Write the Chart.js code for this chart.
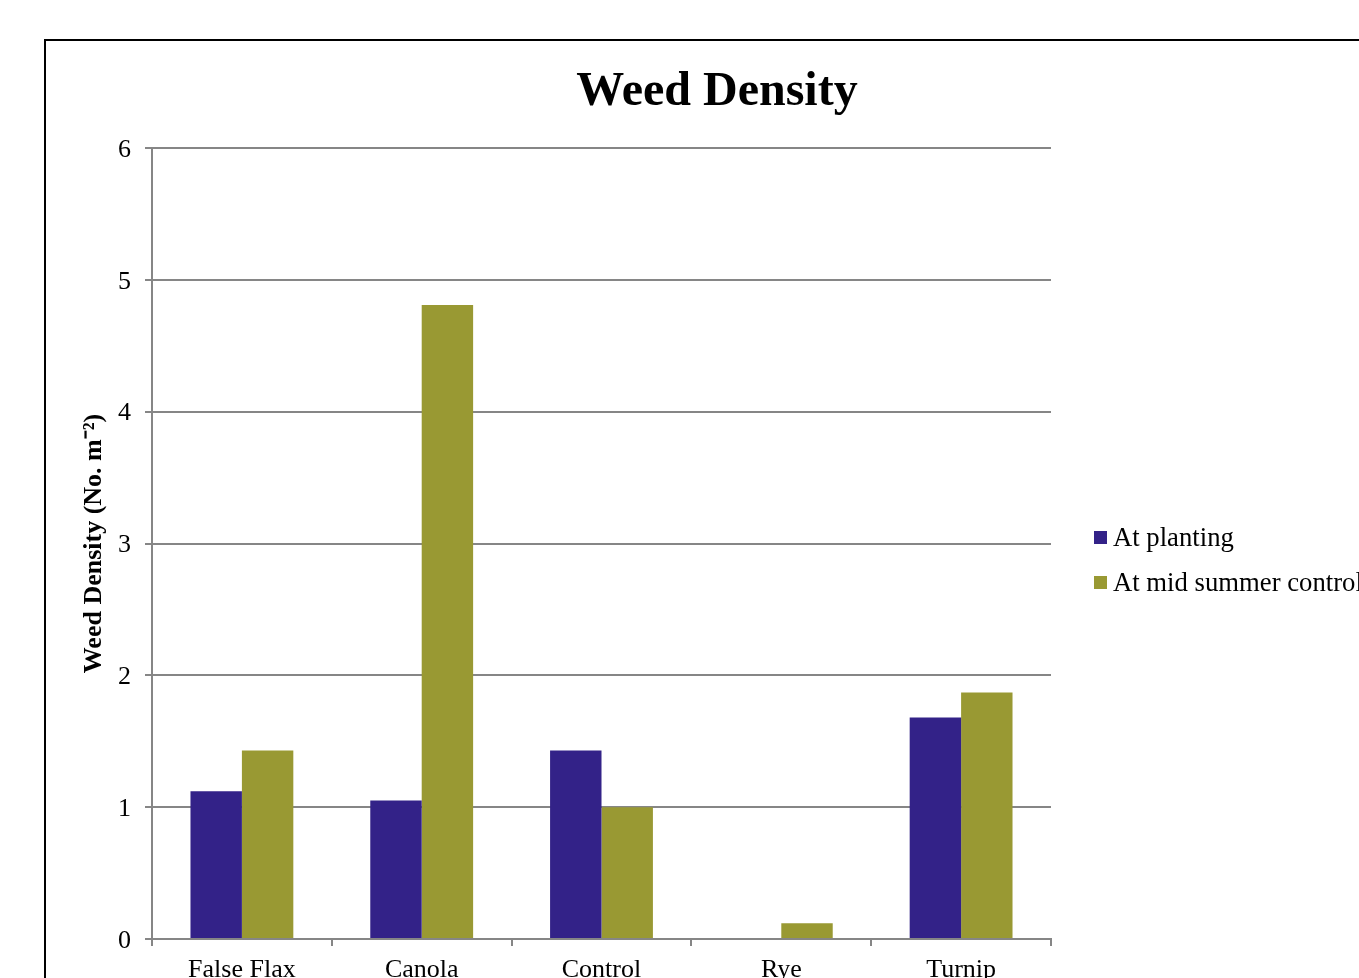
<!DOCTYPE html>
<html>
<head>
<meta charset="utf-8">
<script src="https://cdn.jsdelivr.net/npm/chart.js@4.4.1/dist/chart.umd.min.js"></script>
<style>
  html, body { margin: 0; padding: 0; background: #fff; overflow: hidden; }
  #frame { position: absolute; left: 0; top: 0; width: 1359px; height: 978px; overflow: hidden; }
  #box { position: absolute; left: 44px; top: 39px; width: 1500px; height: 1100px; border: 2px solid #000; box-sizing: border-box; }
  #chart { position: absolute; left: 0; top: 0; }
</style>
</head>
<body>
<div id="frame">
  <div id="box"></div>
  <canvas id="chart" width="1434" height="1000"></canvas>
</div>
<script>
/* ── Data ── */
const CATEGORIES   = ['False Flax', 'Canola', 'Control', 'Rye', 'Turnip'];
const AT_PLANTING  = [1.12, 1.05, 1.43, 0, 1.68];
const MID_SUMMER   = [1.43, 4.81, 1.00, 0.12, 1.87];
const SERIES_NAMES = ['At planting', 'At mid summer control'];
const Y_TICKS      = [0, 1, 2, 3, 4, 5, 6];
const TITLE        = 'Weed Density';

const SERIF = "'Liberation Serif', 'Times New Roman', serif";
const GRID  = '#868686';

/* ── Title: centred on the full (cropped) chart frame, not the plot ── */
const frameTitle = {
  id: 'frameTitle',
  afterDraw(chart) {
    const ctx = chart.ctx;
    ctx.save();
    ctx.font = `bold 48px ${SERIF}`;
    ctx.fillStyle = '#000';
    ctx.textAlign = 'center';
    ctx.textBaseline = 'alphabetic';
    ctx.fillText(TITLE, 717, 105);
    ctx.restore();
  },
};

/* ── Legend drawn at the right, like the original ── */
const sideLegend = {
  id: 'sideLegend',
  afterDraw(chart) {
    const ctx = chart.ctx;
    ctx.save();
    ctx.font = `26.7px ${SERIF}`;
    ctx.textBaseline = 'middle';
    ctx.textAlign = 'left';
    chart.data.datasets.forEach((ds, i) => {
      const cy = 538 + i * 45;
      ctx.fillStyle = ds.backgroundColor;
      ctx.fillRect(1094, cy - 7, 13, 13);
      ctx.fillStyle = '#000';
      ctx.fillText(ds.label, 1113, cy + 1);
    });
    ctx.restore();
  },
};

new Chart(document.getElementById('chart'), {
  type: 'bar',
  data: {
    labels: CATEGORIES,
    datasets: [
      { label: SERIES_NAMES[0], data: AT_PLANTING, backgroundColor: '#332288' },
      { label: SERIES_NAMES[1], data: MID_SUMMER,  backgroundColor: '#999933' },
    ],
  },
  options: {
    responsive: false,
    animation: false,
    devicePixelRatio: 1,
    categoryPercentage: 0.572,
    barPercentage: 1.0,
    layout: { padding: { left: 70, right: 383, top: 148, bottom: 0 } },
    plugins: {
      legend: { display: false },
      tooltip: { enabled: false },
      title: { display: false },
    },
    scales: {
      x: {
        afterFit: s => { s.height = 61; },
        grid: { drawOnChartArea: false, drawTicks: true, tickLength: 7, color: GRID, lineWidth: 2 },
        border: { display: true, color: GRID, width: 2 },
        ticks: { color: '#000', font: { family: SERIF, size: 26 }, padding: 9, maxRotation: 0 },
      },
      y: {
        min: 0, max: 6,
        afterFit: s => { s.width = 82; },
        afterBuildTicks: s => { s.ticks = Y_TICKS.map(v => ({ value: v })); },
        grid: { color: GRID, lineWidth: 2, tickLength: 7 },
        border: { display: true, color: GRID, width: 2 },
        ticks: { color: '#000', font: { family: SERIF, size: 26 }, padding: 14, labelOffset: 2 },
        title: {
          display: true,
          text: 'Weed Density (No. m⁻²)',
          color: '#000',
          font: { family: SERIF, size: 26, weight: 'bold' },
          padding: { top: 9, bottom: 0 },
        },
      },
    },
  },
  plugins: [frameTitle, sideLegend],
});
</script>
</body>
</html>
